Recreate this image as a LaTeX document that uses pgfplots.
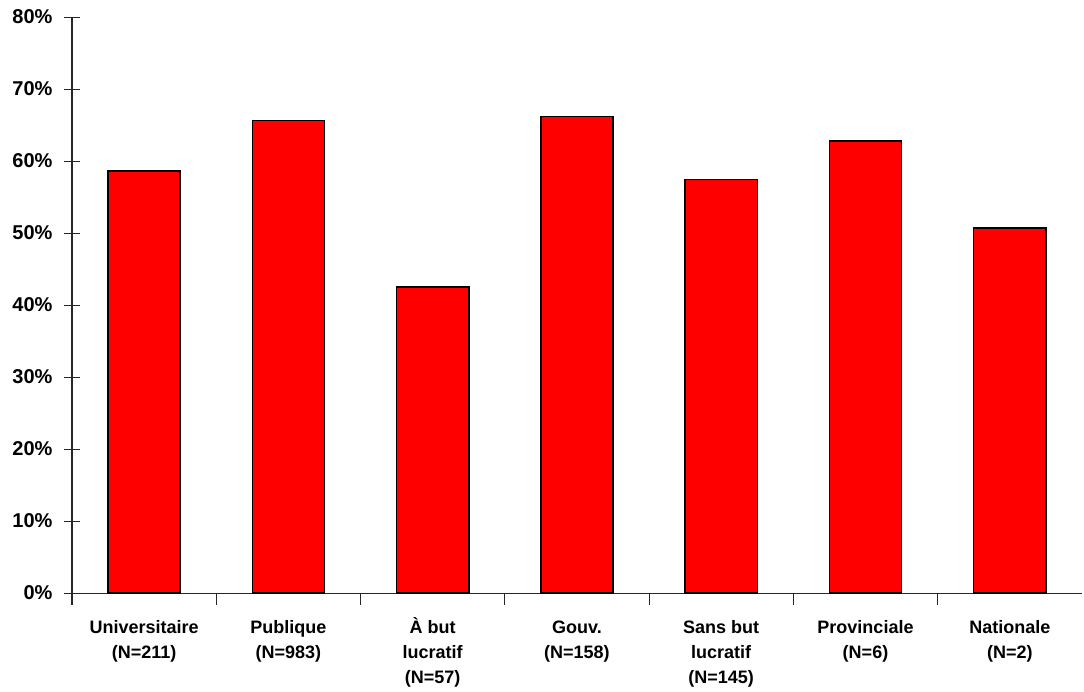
\documentclass[border=0pt]{standalone}
\usepackage{pgfplots}
\pgfplotsset{compat=1.18}
\usepackage{fontspec}
\setmainfont{Liberation Sans}
\newcommand\St{\rule{0pt}{17pt}}
\begin{document}
\begin{tikzpicture}
\path[use as bounding box] (-72pt,-98pt) rectangle (1012pt,593pt);
\begin{axis}[
  at={(0pt,0pt)}, anchor=south west,
  scale only axis,
  width=1010pt, height=576pt,
  xmin=-0.5, xmax=6.5,
  ymin=0, ymax=80,
  axis x line*=bottom, axis y line*=left,
  axis line style={line width=1pt, draw=black!85, -},
  ytick={0,10,...,80},
  yticklabel={\pgfmathprintnumber{\tick}\%},
  /pgf/number format/assume math mode=true,
  tick align=center,
  ytick style={line width=1pt, draw=black!85},
  major tick length=16pt,
  xtick={0,...,6},
  x tick style={draw=none},
  minor xtick={-0.5,0.5,1.5,2.5,3.5,4.5,5.5},
  minor x tick style={draw=black!85, line width=1pt},
  minor tick length=12pt,
  xticklabels={{\St Universitaire\\(N=211)},{\St Publique\\(N=983)},{\St À but\\lucratif\\(N=57)},{\St Gouv.\\(N=158)},{\St Sans but\\lucratif\\(N=145)},{\St Provinciale\\(N=6)},{\St Nationale\\(N=2)}},
  xticklabel style={align=center, font=\fontsize{18}{25}\selectfont\bfseries, anchor=north, yshift=-4pt},
  yticklabel style={font=\fontsize{20}{24}\selectfont\bfseries, xshift=-8pt},
  ybar, bar width=0.5,
  clip=false,
]
\addplot[fill=red, draw=black, line width=1.5pt] coordinates {
(0,58.6) (1,65.6) (2,42.5) (3,66.2) (4,57.4) (5,62.8) (6,50.7)};
\end{axis}
\end{tikzpicture}
\end{document}
